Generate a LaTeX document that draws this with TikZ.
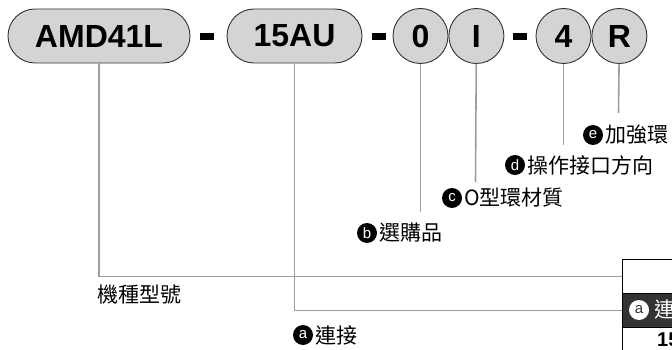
\documentclass[tikz,border=0pt]{standalone}
\usepackage{fontspec}
\setmainfont{Liberation Sans}
\newfontfamily\cjk{Noto Sans CJK TC}
\usetikzlibrary{positioning}
\tikzset{
  % Code part (pill)
  part/.style={draw=black!80, fill=black!17, line width=0.9pt,
    rounded corners=27pt, minimum height=54pt, inner sep=0pt,
    font=\fontsize{32}{32}\selectfont\bfseries},
  % Single-character part
  digit/.style={draw=black!80, fill=black!17, line width=0.9pt,
    shape=circle, minimum size=55pt, inner sep=0pt,
    font=\fontsize{32}{32}\selectfont\bfseries},
  % Hyphen between parts
  hyph/.style={fill=black, minimum width=14pt, minimum height=7pt,
    inner sep=0pt},
  % Leader lines
  lead/.style={draw=black!38, line width=1.6pt},
  % Letter badge
  badge/.style={shape=circle, fill=black, text=white, minimum size=20pt,
    inner sep=0pt, font=\fontsize{15}{15}\selectfont},
  % Label text
  lbl/.style={inner sep=0pt, font=\cjk\fontsize{21}{21}\selectfont},
  % Table row
  tabrow/.style={draw=black, line width=1.2pt, anchor=north west,
    minimum width=90pt, minimum height=34pt, inner sep=0pt},
}
\begin{document}
\begin{tikzpicture}[x=1pt, y=-1pt]

    \useasboundingbox (0,0) rectangle (672,350);
    \clip (0,0) rectangle (672,350);

    % top row of the code
    \node[part, minimum width=182pt] (amd) at (99,36) {AMD41L};
    \node[hyph] (h1) at (207,37) {};
    \node[part, minimum width=135pt] (au) at (294.5,36) {15AU};
    \node[hyph] (h2) at (378.5,37) {};
    \node[digit] (c0) at (420.5,36) {0};
    \node[digit, right=0pt of c0] (cI) {I};
    \node[hyph] (h3) at (519.5,37) {};
    \node[digit] (c4) at (563.5,36) {4};
    \node[digit, right=0pt of c4] (cR) {R};

    % table at the right
    \node[tabrow, fill=white] (r1) at (622,259) {};
    \node[tabrow, fill=black!80] (r2) at (622,293) {};
    \node[tabrow, fill=white] (r3) at (622,327) {};
    \node[badge, fill=white, text=black!80] (tA) at (639,310) {a};
    \node[lbl, text=white, right=5pt of tA] (tAtxt) {連};
    \node[inner sep=0pt, anchor=west, font=\fontsize{20}{20}\selectfont\bfseries]
      (r3txt) at (657,340) {15};

    % labels
    \node[lbl, anchor=west] (model) at (97,295) {機種型號};
    \node[badge] (bA) at (303,335) {a};
    \node[lbl, right=2pt of bA] (tA2) {連接};
    \node[badge] (bB) at (367,233) {b};
    \node[lbl, right=2pt of bB] (tB) {選購品};
    \node[badge] (bC) at (452,198) {c};
    \node[lbl, right=2pt of bC] (tC) {O型環材質};
    \node[badge] (bD) at (515,165) {d};
    \node[lbl, right=2pt of bD] (tD) {操作接口方向};
    \node[badge] (bE) at (593,135) {e};
    \node[lbl, right=2pt of bE] (tE) {加強環};

    % leader ends
    \coordinate (endB) at (420.5,212);
    \coordinate (endC) at (475.5,182);
    \coordinate (endD) at (563.5,145);
    \coordinate (endE) at (618.5,113);

    \draw[lead] (amd) |- (r1.west);
    \draw[lead] (au) |- (r2.west);
    \draw[lead] (c0) -- (endB);
    \draw[lead] (cI) -- (endC);
    \draw[lead] (c4) -- (endD);
    \draw[lead] (cR) -- (endE);
  \end{tikzpicture}
\end{document}
